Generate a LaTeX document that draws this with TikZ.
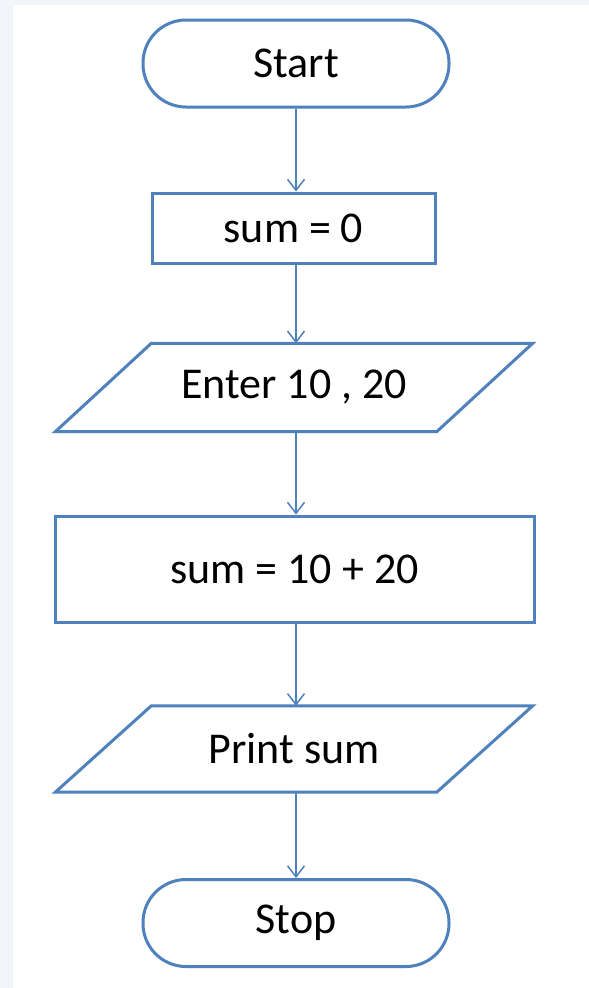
\documentclass[tikz,border=0pt]{standalone}
\usepackage{fontspec}
\setmainfont{Carlito}
\usetikzlibrary{arrows.meta}
\definecolor{lineblue}{RGB}{79,129,189}
\definecolor{bggray}{RGB}{242,245,250}
\begin{document}
\begin{tikzpicture}[x=1pt,y=-1pt,
  every node/.style={font=\fontsize{44}{50}\selectfont, text=black, inner sep=0pt},
  shp/.style={draw=lineblue, line width=3pt, fill=white},
  term/.style={shp, rectangle, rounded corners=43pt, minimum width=306pt, minimum height=87pt},
  procbox/.style={shp, rectangle},
  iobox/.style={rectangle, minimum width=381pt, minimum height=88pt},
  conn/.style={draw=lineblue, line width=1.5pt, -{Straight Barb[length=11pt,width=17pt,line width=1.5pt]}}
]
\useasboundingbox (0,0) rectangle (589,988);
\fill[bggray] (0,0) rectangle (589,988);
\fill[white] (13,5) rectangle (589,988);

\node[term] (start) at (296,63.5) {Start};
\node[procbox, minimum width=283pt, minimum height=70pt] (s0) at (293.5,228) {sum = 0};
\node[iobox] (in) at (294,387.5) {};
\draw[shp] ([xshift=48pt]in.north west) -- ([xshift=48pt]in.north east)
  -- ([xshift=-48pt]in.south east) -- ([xshift=-48pt]in.south west) -- cycle;
\node at (in) {Enter 10 , 20};
\node[procbox, minimum width=479pt, minimum height=106pt] (calc) at (294.5,569) {sum = 10 + 20};
\node[iobox, minimum height=86pt] (out) at (294,749) {};
\draw[shp] ([xshift=48pt]out.north west) -- ([xshift=48pt]out.north east)
  -- ([xshift=-48pt]out.south east) -- ([xshift=-48pt]out.south west) -- cycle;
\node at (out) {Print sum};
\node[term] (stop) at (296,923) {Stop};

\draw[conn] (start.south) -- (start.south |- s0.north);
\draw[conn] (start.south |- s0.south) -- (start.south |- in.north);
\draw[conn] (start.south |- in.south) -- (start.south |- calc.north);
\draw[conn] (start.south |- calc.south) -- (start.south |- out.north);
\draw[conn] (start.south |- out.south) -- (stop.north);
\end{tikzpicture}
\end{document}
